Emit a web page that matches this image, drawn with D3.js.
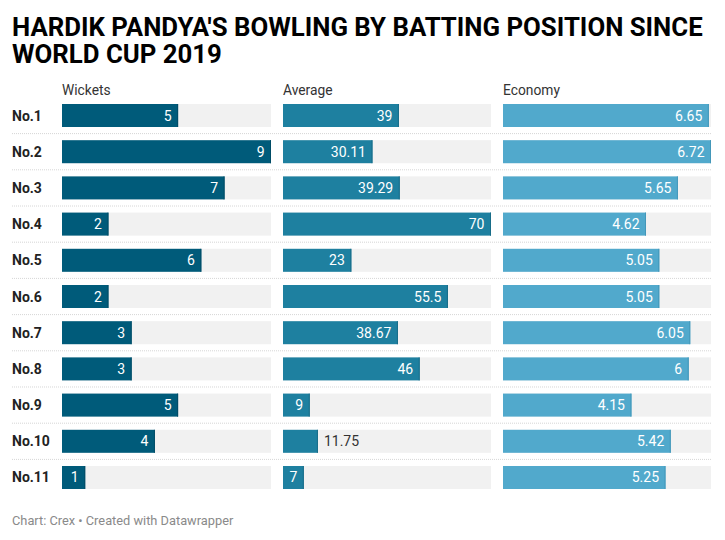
<!DOCTYPE html>
<html>
<head>
<meta charset="utf-8">
<script src="https://cdn.jsdelivr.net/npm/d3@7"></script>
<style>
  body { margin: 0; background: #fff; }
  text { font-family: Roboto, "Noto Sans", sans-serif; }
</style>
</head>
<body>
<script>
// chart data
const positions = ["No.1", "No.2", "No.3", "No.4", "No.5", "No.6", "No.7", "No.8", "No.9", "No.10", "No.11"];
const wickets = [5, 9, 7, 2, 6, 2, 3, 3, 5, 4, 1];
const average = [39, 30.11, 39.29, 70, 23, 55.5, 38.67, 46, 9, 11.75, 7];
const economy = [6.65, 6.72, 5.65, 4.62, 5.05, 5.05, 6.05, 6, 4.15, 5.42, 5.25];
const columnNames = ["Wickets", "Average", "Economy"];

const width = 725, height = 540;

const svg = d3.select("body").append("svg")
    .attr("width", width)
    .attr("height", height);

// title, squeezed horizontally like the condensed face in the original
const title = svg.append("g").attr("id", "title");
const titleLines = ["HARDIK PANDYA'S BOWLING BY BATTING POSITION SINCE", "WORLD CUP 2019"];
const titleText = title.selectAll("text")
    .data(titleLines)
    .enter()
    .append("text")
    .attr("x", 0)
    .attr("y", (_, i) => 36 + i * 27)
    .attr("font-size", 26)
    .attr("font-weight", 700)
    .attr("fill", "#000")
    .text(d => d);
const naturalWidth = titleText.node().getComputedTextLength();
const squeeze = 691 / naturalWidth;
titleText.attr("transform", `translate(12,0) scale(${squeeze},1)`);

// rows
const y = d3.scaleBand()
    .domain(positions)
    .range([104, 489])
    .paddingInner(0.3646)
    .paddingOuter(0);
const gap = y.step() - y.bandwidth();

// dotted separators between rows
svg.append("g")
    .selectAll("line")
    .data(positions.slice(1))
    .enter()
    .append("line")
    .attr("x1", 12)
    .attr("x2", 712)
    .attr("y1", d => y(d) - gap / 2)
    .attr("y2", d => y(d) - gap / 2)
    .attr("stroke", "#d6d6d6")
    .attr("stroke-width", 1)
    .attr("stroke-dasharray", "1,1");

// row labels
svg.append("g")
    .selectAll("text")
    .data(positions)
    .enter()
    .append("text")
    .attr("x", 12)
    .attr("y", d => y(d) + y.bandwidth() / 2)
    .attr("dominant-baseline", "central")
    .attr("font-size", 14)
    .attr("font-weight", 700)
    .attr("fill", "#222")
    .text(d => d);

const columns = [
    { name: columnNames[0], values: wickets, x0: 62, x1: 271, max: 9, color: "#005b7a", edge: "#004c66" },
    { name: columnNames[1], values: average, x0: 283, x1: 491, max: 70, color: "#1e80a0", edge: "#176c88" },
    { name: columnNames[2], values: economy, x0: 503, x1: 711, max: 6.72, color: "#51a9cc", edge: "#4397b9" }
];

columns.forEach(col => {
    const x = d3.scaleLinear()
        .domain([0, col.max])
        .range([col.x0, col.x1]);

    const g = svg.append("g");

    g.append("text")
        .attr("x", col.x0)
        .attr("y", 95)
        .attr("font-size", 13.8)
        .attr("fill", "#333")
        .text(col.name);

    // grey background track
    g.selectAll(".track")
        .data(positions)
        .enter()
        .append("rect")
        .attr("class", "track")
        .attr("x", col.x0)
        .attr("y", d => y(d))
        .attr("width", col.x1 - col.x0)
        .attr("height", y.bandwidth())
        .attr("fill", "#f1f1f1");

    const rows = col.values.map((v, i) => ({ pos: positions[i], v: v }));

    g.selectAll(".bar")
        .data(rows)
        .enter()
        .append("rect")
        .attr("class", "bar")
        .attr("x", col.x0)
        .attr("y", d => y(d.pos))
        .attr("width", d => x(d.v) - col.x0)
        .attr("height", y.bandwidth())
        .attr("fill", col.color);

    // thin darker edge on the bar end
    g.selectAll(".edge")
        .data(rows)
        .enter()
        .append("rect")
        .attr("class", "edge")
        .attr("x", d => x(d.v) - 1)
        .attr("y", d => y(d.pos))
        .attr("width", 1)
        .attr("height", y.bandwidth())
        .attr("fill", col.edge);

    const labels = g.selectAll(".value")
        .data(rows)
        .enter()
        .append("text")
        .attr("class", "value")
        .attr("y", d => y(d.pos) + y.bandwidth() / 2)
        .attr("dominant-baseline", "central")
        .attr("font-size", 14)
        .text(d => d.v);

    // inside the bar when the number fits, otherwise just after it
    labels.each(function(d) {
        const t = d3.select(this);
        const w = this.getComputedTextLength();
        const barW = x(d.v) - col.x0;
        if (w + 12 <= barW) {
            t.attr("x", x(d.v) - 6.5).attr("text-anchor", "end").attr("fill", "#fff");
        } else {
            t.attr("x", x(d.v) + 6).attr("text-anchor", "start").attr("fill", "#333");
        }
    });
});

svg.append("text")
    .attr("x", 12)
    .attr("y", 525)
    .attr("font-size", 12.8)
    .attr("fill", "#8a8a8a")
    .text("Chart: Crex \u2022 Created with Datawrapper");
</script>
</body>
</html>
